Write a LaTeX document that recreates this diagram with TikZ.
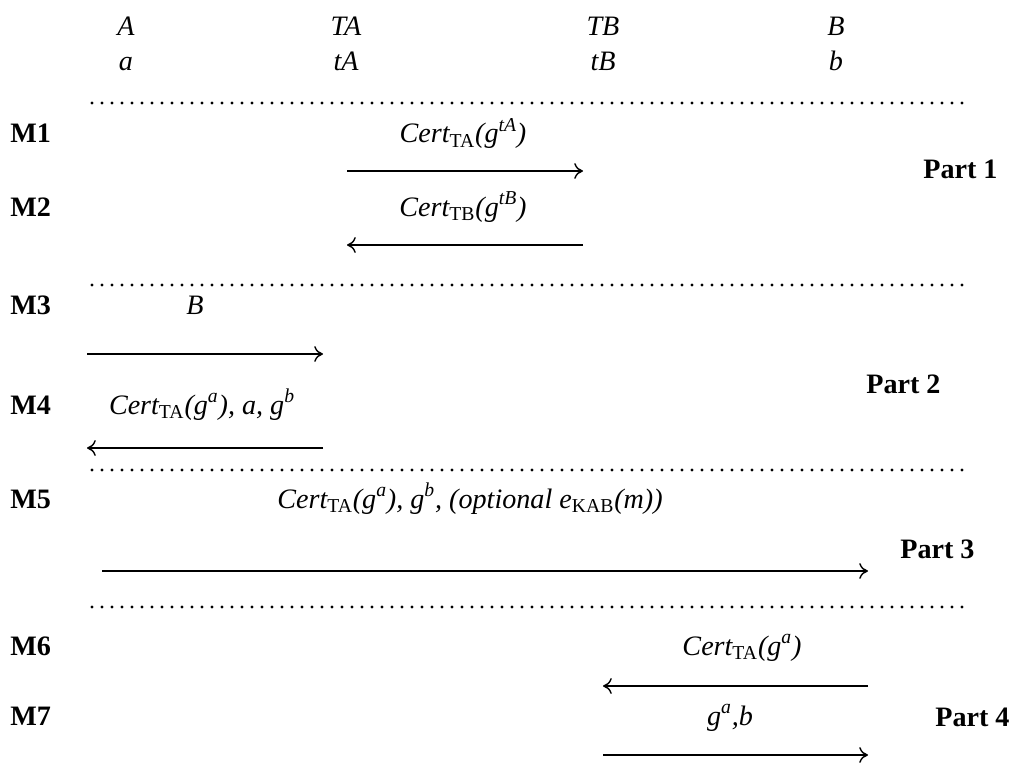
\documentclass[tikz,border=0pt]{standalone}
\usepackage{fontspec}
\setmainfont{Liberation Serif}
\usepackage{tikz}
\usetikzlibrary{arrows.meta}

\newcommand{\bigfont}{\fontsize{16}{19}\selectfont}
\newcommand{\lsub}[1]{\textsubscript{\upshape #1}}
\newcommand{\lsup}[1]{\textsuperscript{#1}}

\tikzset{
    party/.style={anchor=base, inner sep=0pt, font=\bigfont\itshape},
    lbl/.style={anchor=base, inner sep=0pt, font=\bigfont\itshape},
    msgno/.style={anchor=base west, inner sep=0pt, font=\bigfont\bfseries},
    partno/.style={anchor=base west, inner sep=0pt, font=\bigfont\bfseries},
    sep/.style={line width=1.8pt, line cap=round, dash pattern=on 0pt off 5.69pt},
    msg/.style={line width=0.8pt, -{To[length=5pt,width=9pt]}}
}

\begin{document}
\begin{tikzpicture}[scale=1.0]
    \useasboundingbox (0,0) rectangle (20.36,15.26);

    % ========== Uczestnicy i ich klucze ==========
    \node[party] (nA)  at (2.52,14.54)  {A};
    \node[party] (nTA) at (6.92,14.54)  {TA};
    \node[party] (nTB) at (12.06,14.54) {TB};
    \node[party] (nB)  at (16.72,14.54) {B};
    \node[party] (na)  at (2.52,13.84)  {a};
    \node[party] (ntA) at (6.92,13.84)  {tA};
    \node[party] (ntB) at (12.06,13.84) {tB};
    \node[party] (nb)  at (16.72,13.84) {b};

    % Linie podzialu
    \foreach \y in {13.20,9.56,5.86,3.12}
        \draw[sep] (1.84,\y) -- (19.40,\y);

    % ========== Part 1 (TA <-> TB) ==========
    \node[msgno] (m1) at (0.20,12.40) {M1};
    \node[msgno] (m2) at (0.20,10.94) {M2};
    \node[lbl] (l1) at (9.26,12.40) {Cert\lsub{TA}(g\lsup{tA})};
    \node[lbl] (l2) at (9.26,10.94) {Cert\lsub{TB}(g\lsup{tB})};
    \coordinate (m1s) at (6.94,11.84);
    \coordinate (m1e) at (11.66,11.84);
    \coordinate (m2s) at (11.66,10.36);
    \coordinate (m2e) at (6.94,10.36);
    \draw[msg] (m1s) -- (m1e);
    \draw[msg] (m2s) -- (m2e);
    \node[partno] (p1) at (18.46,11.68) {Part 1};

    % ========== Part 2 (A <-> TA) ==========
    \node[msgno] (m3) at (0.20,8.98) {M3};
    \node[msgno] (m4) at (0.20,6.98) {M4};
    \node[lbl] (l3) at (3.90,8.98) {B};
    \node[lbl] (l4) at (4.04,6.98) {Cert\lsub{TA}(g\lsup{a}), a, g\lsup{b}};
    \coordinate (m3s) at (1.74,8.18);
    \coordinate (m3e) at (6.46,8.18);
    \coordinate (m4s) at (6.46,6.30);
    \coordinate (m4e) at (1.74,6.30);
    \draw[msg] (m3s) -- (m3e);
    \draw[msg] (m4s) -- (m4e);
    \node[partno] (p2) at (17.32,7.40) {Part 2};

    % ========== Part 3 (A -> B) ==========
    \node[msgno] (m5) at (0.20,5.10) {M5};
    \node[lbl] (l5) at (9.40,5.10) {Cert\lsub{TA}(g\lsup{a}), g\lsup{b}, (optional e\lsub{KAB}(m))};
    \coordinate (m5s) at (2.04,3.84);
    \coordinate (m5e) at (17.36,3.84);
    \draw[msg] (m5s) -- (m5e);
    \node[partno] (p3) at (18.00,4.10) {Part 3};

    % ========== Part 4 (B <-> TB) ==========
    \node[msgno] (m6) at (0.20,2.16) {M6};
    \node[msgno] (m7) at (0.20,0.76) {M7};
    \node[lbl] (l6) at (14.84,2.16) {Cert\lsub{TA}(g\lsup{a})};
    \node[lbl] (l7) at (14.60,0.76) {g\lsup{a},b};
    \coordinate (m6s) at (17.36,1.54);
    \coordinate (m6e) at (12.06,1.54);
    \coordinate (m7s) at (12.06,0.16);
    \coordinate (m7e) at (17.36,0.16);
    \draw[msg] (m6s) -- (m6e);
    \draw[msg] (m7s) -- (m7e);
    \node[partno] (p4) at (18.70,0.74) {Part 4};
\end{tikzpicture}
\end{document}
